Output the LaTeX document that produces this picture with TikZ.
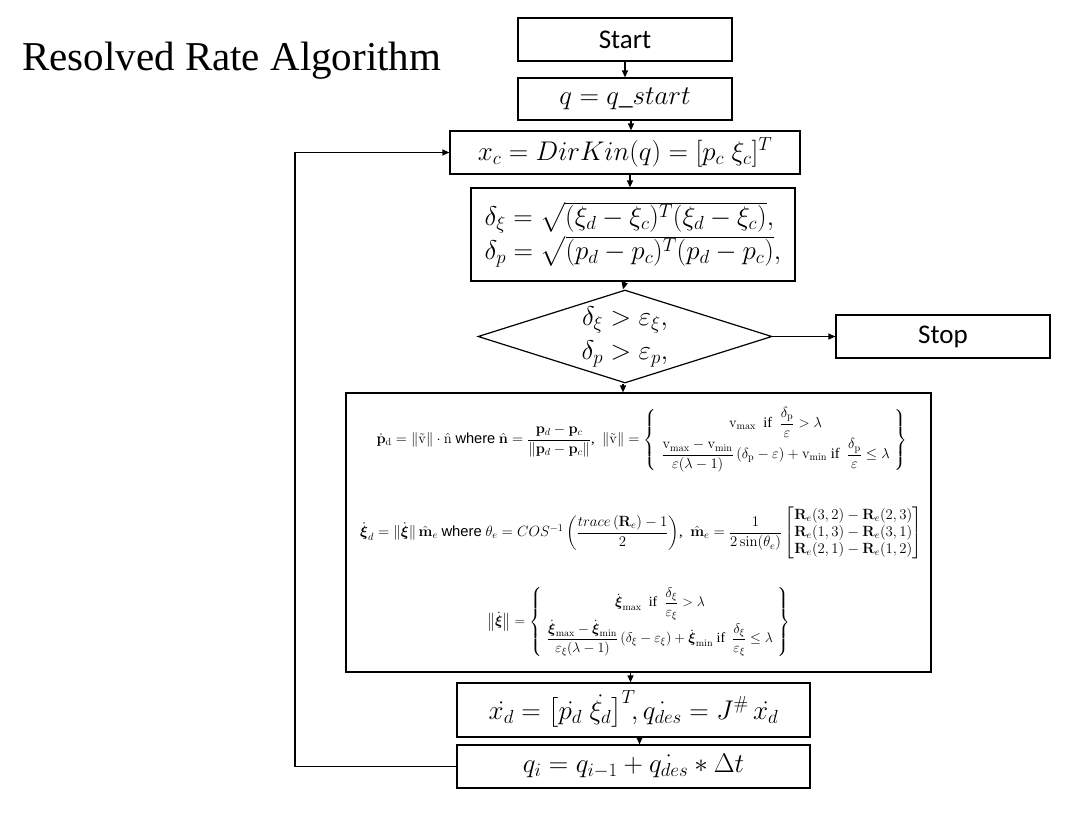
\RequirePackage{fix-cm}
\documentclass[tikz,border=0pt]{standalone}
\usepackage{amsmath}
\usepackage[no-math]{fontspec}
\setmainfont{Liberation Serif}
\setsansfont{Carlito}
\newfontfamily\arialfont{Liberation Sans}
\usepackage{tikz}
\usetikzlibrary{arrows.meta}
\usetikzlibrary{shapes.geometric}
\usetikzlibrary{positioning}
\tikzset{flowbox/.style={rectangle,draw=black,line width=1.2pt,inner sep=0pt,font=\fontsize{27}{34}\selectfont}}
\tikzset{endbox/.style={flowbox,minimum width=214pt,minimum height=43pt,font=\sffamily\fontsize{27}{32}\selectfont}}
\tikzset{cond/.style={diamond,draw=black,line width=1.2pt,inner sep=0pt,minimum width=294pt,minimum height=93pt}}
\tikzset{rowtxt/.style={inner sep=0pt,font=\fontsize{14.6}{17}\selectfont}}
\tikzset{arr/.style={-{Triangle[length=7pt,width=6pt]},line width=1.2pt}}

\begin{document}
\begin{tikzpicture}[x=1pt,y=-1pt]
\useasboundingbox (0,0) rectangle (1077,815);

\node[anchor=base west,inner sep=0pt,font=\fontsize{41}{48}\selectfont] (title) at (22,70) {Resolved Rate Algorithm};

\node[endbox] (start) at (625,39.5) {Start};
\node[flowbox,minimum width=214pt,minimum height=42pt] (qs) at (625,99) {$q = q\_start$};
\node[flowbox,minimum width=350pt,minimum height=43pt] (xc) at (625,152.5) {$x_c = DirKin(q) = [p_c\;\xi_c]^T$};
\node[flowbox,minimum width=324pt,minimum height=93pt,align=left] (dist) at (633,234.5)
  {$\delta_\xi = \sqrt{(\xi_d-\xi_c)^T(\xi_d-\xi_c)},$\\ $\delta_p = \sqrt{(p_d-p_c)^T(p_d-p_c)},$};
\node[cond] (chk) at (625,336.5) {};
\node[font=\fontsize{27}{34}\selectfont,align=center,inner sep=0pt] (chktxt) at (chk.center)
  {$\delta_\xi > \varepsilon_\xi,$\\ $\delta_p > \varepsilon_p,$};
\node[endbox] (stop) at (943,336.5) {Stop};

% velocity box
\node[flowbox,minimum width=585pt,minimum height=279pt] (vel) at (638.5,532.5) {};
\node[rowtxt] (rowp) at (642,440)
  {$\dot{\mathbf{p}}_{\mathrm{d}} = \left\|\tilde{\mathrm{v}}\right\|\cdot\hat{\mathrm{n}}$ {\arialfont where} $\hat{\mathbf{n}} = \dfrac{\mathbf{p}_d-\mathbf{p}_c}{\left\|\mathbf{p}_d-\mathbf{p}_c\right\|}$,\ \ $\left\|\tilde{\mathrm{v}}\right\| = \left\{\begin{array}{c} \mathrm{v}_{\max}\ \ \text{if}\ \ \dfrac{\delta_{\mathrm{p}}}{\varepsilon}>\lambda \\[6pt] \dfrac{\mathrm{v}_{\max}-\mathrm{v}_{\min}}{\varepsilon(\lambda-1)}\left(\delta_{\mathrm{p}}-\varepsilon\right)+\mathrm{v}_{\min}\ \text{if}\ \ \dfrac{\delta_{\mathrm{p}}}{\varepsilon}\le\lambda \end{array}\right\}$};
\node[rowtxt,font=\fontsize{14.8}{17}\selectfont] (rowm) at (641,533)
  {$\dot{\boldsymbol{\xi}}_d = \|\dot{\boldsymbol{\xi}}\|\,\hat{\mathbf{m}}_e$ {\arialfont where} $\theta_e = COS^{-1}\left(\dfrac{trace\left(\mathbf{R}_e\right)-1}{2}\right)$,\ \ $\hat{\mathbf{m}}_e = \dfrac{1}{2\sin(\theta_e)}\begin{bmatrix}\mathbf{R}_e(3,2)-\mathbf{R}_e(2,3)\\ \mathbf{R}_e(1,3)-\mathbf{R}_e(3,1)\\ \mathbf{R}_e(2,1)-\mathbf{R}_e(1,2)\end{bmatrix}$};
\node[rowtxt,font=\fontsize{14}{17}\selectfont] (rowxi) at (639,622)
  {$\left\|\dot{\boldsymbol{\xi}}\right\| = \left\{\begin{array}{c} \dot{\boldsymbol{\xi}}_{\max}\ \ \text{if}\ \ \dfrac{\delta_\xi}{\varepsilon_\xi}>\lambda\\[8pt] \dfrac{\dot{\boldsymbol\xi}_{\max}-\dot{\boldsymbol\xi}_{\min}}{\varepsilon_\xi(\lambda-1)}\left(\delta_\xi-\varepsilon_\xi\right)+\dot{\boldsymbol\xi}_{\min}\ \text{if}\ \ \dfrac{\delta_\xi}{\varepsilon_\xi}\le\lambda\end{array}\right\}$};

\node[flowbox,minimum width=353pt,minimum height=54pt] (xd) at (633.5,710) {$\dot{x_d} = \bigl[\dot{p_d}\;\dot{\xi_d}\bigr]^T\!, \dot{q_{des}} = J^{\#}\,\dot{x_d}$};
\node[flowbox,minimum width=353pt,minimum height=43pt] (qi) at (633.5,766.5) {$q_i = q_{i-1} + \dot{q_{des}} * \Delta t$};

\draw[arr] (start.south) -- (qs.north);
\draw[arr] ([xshift=6pt]qs.south) -- ([xshift=6pt]qs.south |- xc.north);
\draw[arr] ([xshift=5pt]xc.south) -- ([xshift=5pt]xc.south |- dist.north);
\draw[arr] (dist.south -| chk.north) -- ([xshift=-2pt]chk.north);
\draw[arr] ([xshift=-2pt]chk.south) -- ([xshift=-2pt]chk.south |- vel.north);
\draw[arr] (chk.east) -- (stop.west);
\draw[arr] ([xshift=-8pt]vel.south) -- ([xshift=-8pt]vel.south |- xd.north);
\draw[arr] ([xshift=6pt]xd.south) -- ([xshift=6pt]xd.south |- qi.north);
% loop back
\coordinate (back) at (295,766.5);
\draw[arr] (qi.west) -- (back) |- (xc.west);
\end{tikzpicture}
\end{document}
